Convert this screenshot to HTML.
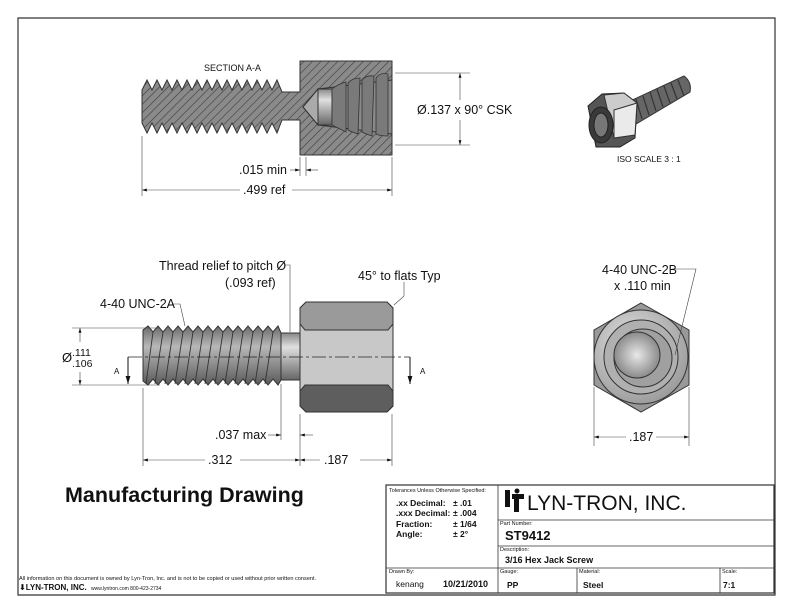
<!DOCTYPE html>
<html><head><meta charset="utf-8"><style>
html,body{margin:0;padding:0;background:#fff}
svg{display:block}
text{font-family:"Liberation Sans","DejaVu Sans",sans-serif;fill:#111}
</style></head><body>
<svg width="792" height="612" viewBox="0 0 792 612" xmlns="http://www.w3.org/2000/svg">
<defs>
<pattern id="hatch" width="6" height="6" patternUnits="userSpaceOnUse" patternTransform="rotate(45)">
<rect width="6" height="6" fill="#8a8a8a"/><line x1="0" y1="0" x2="0" y2="6" stroke="#3a3a3a" stroke-width="1.2"/></pattern>
<linearGradient id="shaft" x1="0" y1="0" x2="0" y2="1">
<stop offset="0" stop-color="#6a6a6a"/><stop offset="0.35" stop-color="#b8b8b8"/><stop offset="1" stop-color="#5a5a5a"/></linearGradient>
<linearGradient id="neck" x1="0" y1="0" x2="0" y2="1">
<stop offset="0" stop-color="#888"/><stop offset="0.3" stop-color="#e0e0e0"/><stop offset="1" stop-color="#666"/></linearGradient>
<radialGradient id="cone" cx="0.5" cy="0.5" r="0.5"><stop offset="0" stop-color="#e8e8e8"/><stop offset="1" stop-color="#8a8a8a"/></radialGradient>
<radialGradient id="face" cx="0.4" cy="0.35" r="0.7"><stop offset="0" stop-color="#e0e0e0"/><stop offset="1" stop-color="#999"/></radialGradient>
<marker id="ar" viewBox="0 0 10 6" refX="10" refY="3" markerWidth="8" markerHeight="5" orient="auto-start-reverse"><path d="M0,0L10,3L0,6Z" fill="#111"/></marker>
</defs>
<path d="M18,595 L18,18 L775,18 L775,595 Z" fill="none" stroke="#333" stroke-width="1.2"/>

<!-- SECTION A-A -->
<text x="204" y="71" font-size="9">SECTION A-A</text>
<path d="M142,90 L147,80 L152,90 L157,80 L162,90 L167,80 L172,90 L177,80 L182,90 L187,80 L192,90 L197,80 L202,90 L207,80 L212,90 L217,80 L222,90 L227,80 L232,90 L237,80 L242,90 L247,80 L252,90 L257,80 L262,90 L267,80 L272,90 L277,80 L282,92 L300,92 L300,61 L392,61 L392,155 L300,155 L300,120 L282,120 L277,133 L272,123 L267,133 L262,123 L257,133 L252,123 L247,133 L242,123 L237,133 L232,123 L227,133 L222,123 L217,133 L212,123 L207,133 L202,123 L197,133 L192,123 L187,133 L182,123 L177,133 L172,123 L167,133 L162,123 L157,133 L152,123 L147,133 L142,123 Z" fill="url(#hatch)" stroke="#333" stroke-width="1"/>
<path d="M303,107 L318,89 L392,80 L392,134 L318,125 Z" fill="#8a8a8a" stroke="#333"/>
<path d="M303,107 L318,89 L318,125 Z" fill="#aaa" stroke="#333"/>
<rect x="318" y="89" width="14" height="36" fill="url(#neck)" stroke="#333"/>
<g fill="#7a7a7a" stroke="#333" stroke-width="0.8">
<path d="M332,89 Q338,84 346,82 L346,132 Q338,128 332,125 Z"/>
<path d="M348,83 Q352,78 360,78 L358,134 Q352,132 348,130 Z"/>
<path d="M362,80 Q366,75 374,76 L372,136 Q366,134 362,132 Z"/>
<path d="M376,78 Q380,72 388,74 L388,136 Q380,136 376,134 Z"/>
</g>
<g stroke="#444" stroke-width="0.6" fill="none">
<line x1="142" y1="136" x2="142" y2="196"/><line x1="392" y1="157" x2="392" y2="196"/>
<line x1="300" y1="157" x2="300" y2="176"/><line x1="306" y1="157" x2="306" y2="176"/>
<line x1="142" y1="190" x2="240" y2="190" marker-start="url(#ar)"/><line x1="292" y1="190" x2="392" y2="190" marker-end="url(#ar)"/>
<line x1="290" y1="170" x2="300" y2="170" marker-end="url(#ar)"/><line x1="318" y1="170" x2="306" y2="170" marker-end="url(#ar)"/>
<line x1="395" y1="73" x2="470" y2="73"/><line x1="395" y1="145" x2="470" y2="145"/>
<line x1="460" y1="100" x2="460" y2="73" marker-end="url(#ar)"/><line x1="460" y1="120" x2="460" y2="145" marker-end="url(#ar)"/>
</g>
<text x="239" y="174" font-size="12.5">.015 min</text>
<text x="243" y="194" font-size="12.5">.499 ref</text>
<text x="417" y="114" font-size="12.5">Ø.137 x 90° CSK</text>

<!-- ISO -->
<g>
<path d="M628,102 L684,76 Q692,82 690,92 L636,124 Z" fill="#666" stroke="#333"/>
<g stroke="#333" stroke-width="1.2">
<line x1="636" y1="99" x2="642" y2="119"/><line x1="643" y1="96" x2="649" y2="115"/><line x1="650" y1="92" x2="656" y2="111"/><line x1="657" y1="89" x2="663" y2="107"/><line x1="664" y1="86" x2="670" y2="103"/><line x1="671" y1="83" x2="677" y2="99"/><line x1="678" y1="80" x2="684" y2="96"/></g>
<path d="M588,106 L602,94 L624,93 L637,103 L635,138 L620,147 L596,147 Z" fill="#555" stroke="#222"/>
<path d="M604,95 L624,93 L637,103 L635,135 L614,138 Z" fill="#ccc" stroke="#333"/>
<path d="M614,110 L637,103 L635,135 L614,138 Z" fill="#eaeaea" stroke="#333"/>
<ellipse cx="601" cy="125" rx="12" ry="18" fill="#3a3a3a" stroke="#222"/>
<ellipse cx="601" cy="125" rx="7" ry="12" fill="#777" stroke="#222"/>
</g>
<text x="617" y="162" font-size="8.5">ISO SCALE 3 : 1</text>

<!-- FRONT VIEW -->
<path d="M143,330 L148,326 L153,332 L158,326 L163,332 L168,326 L173,332 L178,326 L183,332 L188,326 L193,332 L198,326 L203,332 L208,326 L213,332 L218,326 L223,332 L228,326 L233,332 L238,326 L243,332 L248,326 L253,332 L258,326 L263,332 L268,326 L273,332 L278,326 L281,333 L281,380 L278,385 L273,379 L268,385 L263,379 L258,385 L253,379 L248,385 L243,379 L238,385 L233,379 L228,385 L223,379 L218,385 L213,379 L208,385 L203,379 L198,385 L193,379 L188,385 L183,379 L178,385 L173,379 L168,385 L163,379 L158,385 L153,379 L148,385 L143,381 Z" fill="url(#shaft)" stroke="#333"/>
<g stroke="#333" stroke-width="0.9">
<line x1="153" y1="332" x2="146" y2="384"/><line x1="163" y1="332" x2="155" y2="384"/><line x1="173" y1="332" x2="165" y2="384"/><line x1="183" y1="332" x2="175" y2="384"/><line x1="193" y1="332" x2="185" y2="384"/><line x1="203" y1="332" x2="195" y2="384"/><line x1="213" y1="332" x2="205" y2="384"/><line x1="223" y1="332" x2="215" y2="384"/><line x1="233" y1="332" x2="225" y2="384"/><line x1="243" y1="332" x2="235" y2="384"/><line x1="253" y1="332" x2="245" y2="384"/><line x1="263" y1="332" x2="255" y2="384"/><line x1="273" y1="332" x2="265" y2="384"/></g>
<rect x="281" y="333" width="19" height="47" fill="url(#neck)" stroke="#333"/>
<path d="M306,302 L387,302 L393,308 L393,406 L387,412 L306,412 L300,406 L300,308 Z" fill="#c8c8c8" stroke="#333"/>
<path d="M306,302 L387,302 L393,308 L393,324 L388,330 L305,330 L300,324 L300,308 Z" fill="#9a9a9a" stroke="#333"/>
<path d="M305,385 L388,385 L393,391 L393,406 L387,412 L306,412 L300,406 L300,391 Z" fill="#5e5e5e" stroke="#333"/>
<line x1="128" y1="357" x2="410" y2="357" stroke="#222" stroke-width="0.7" stroke-dasharray="14,3,3,3"/>
<g stroke="#111" stroke-width="1"><line x1="128" y1="357" x2="128" y2="384" marker-end="url(#ar)"/><line x1="410" y1="357" x2="410" y2="384" marker-end="url(#ar)"/></g>
<text x="114" y="374" font-size="8">A</text><text x="420" y="374" font-size="8">A</text>
<g stroke="#444" stroke-width="0.6" fill="none">
<line x1="72" y1="328" x2="160" y2="328"/><line x1="72" y1="385" x2="160" y2="385"/>
<line x1="80" y1="342" x2="80" y2="328" marker-end="url(#ar)"/><line x1="80" y1="372" x2="80" y2="385" marker-end="url(#ar)"/>
<line x1="143" y1="388" x2="143" y2="466"/><line x1="300" y1="414" x2="300" y2="466"/><line x1="392" y1="414" x2="392" y2="466"/><line x1="281" y1="384" x2="281" y2="440"/>
<line x1="143" y1="460" x2="205" y2="460" marker-start="url(#ar)"/><line x1="240" y1="460" x2="300" y2="460" marker-end="url(#ar)"/>
<line x1="300" y1="460" x2="320" y2="460" marker-start="url(#ar)"/><line x1="360" y1="460" x2="392" y2="460" marker-end="url(#ar)"/>
<line x1="268" y1="435" x2="281" y2="435" marker-end="url(#ar)"/><line x1="313" y1="435" x2="300" y2="435" marker-end="url(#ar)"/>
<polyline points="172,304 180,304 185,326"/>
<polyline points="284,265 290,265 290,332"/>
<polyline points="404,282 404,296 394,305"/>
</g>
<text x="62" y="362" font-size="13">Ø</text>
<text x="72" y="356" font-size="10.5">.111</text><text x="72" y="367" font-size="10.5">.106</text>
<text x="100" y="308" font-size="12.5">4-40 UNC-2A</text>
<text x="159" y="270" font-size="12.5">Thread relief to pitch Ø</text>
<text x="225" y="287" font-size="12.5">(.093 ref)</text>
<text x="358" y="280" font-size="12.5">45° to flats Typ</text>
<text x="215" y="439" font-size="12.5">.037 max</text>
<text x="208" y="464" font-size="12.5">.312</text>
<text x="324" y="464" font-size="12.5">.187</text>

<!-- END VIEW -->
<path d="M641,303 L689,330 L689,385 L641,412 L594,385 L594,330 Z" fill="#999" stroke="#333"/>
<circle cx="641" cy="357" r="47" fill="url(#face)" stroke="#333"/>
<circle cx="641" cy="357" r="37" fill="#b0b0b0" stroke="#333"/>
<circle cx="643" cy="358" r="29" fill="#a0a0a0" stroke="#333"/>
<circle cx="637" cy="355" r="23" fill="url(#cone)" stroke="#333"/>
<g stroke="#444" stroke-width="0.6" fill="none">
<line x1="594" y1="387" x2="594" y2="446"/><line x1="689" y1="387" x2="689" y2="446"/>
<line x1="594" y1="437" x2="626" y2="437" marker-start="url(#ar)"/><line x1="656" y1="437" x2="689" y2="437" marker-end="url(#ar)"/>
<polyline points="672,269 696,269 675,355"/>
</g>
<text x="602" y="274" font-size="12.5">4-40 UNC-2B</text>
<text x="614" y="290" font-size="12.5">x .110 min</text>
<text x="629" y="441" font-size="12.5">.187</text>

<text x="65" y="502" font-size="21.5" font-weight="bold">Manufacturing Drawing</text>

<!-- title block -->
<g stroke="#333" stroke-width="0.8" fill="none">
<rect x="386" y="485" width="388" height="108" stroke-width="1.2"/>
<line x1="498" y1="485" x2="498" y2="593"/>
<line x1="498" y1="520" x2="774" y2="520"/><line x1="498" y1="546" x2="774" y2="546"/>
<line x1="386" y1="568" x2="774" y2="568"/>
<line x1="577" y1="568" x2="577" y2="593"/><line x1="720" y1="568" x2="720" y2="593"/>
</g>
<text x="389" y="492" font-size="5.5">Tolerances Unless Otherwise Specified:</text>
<g font-size="8.5" font-weight="bold">
<text x="396" y="506">.xx Decimal:</text><text x="453" y="506">± .01</text>
<text x="396" y="516">.xxx Decimal:</text><text x="453" y="516">± .004</text>
<text x="396" y="527">Fraction:</text><text x="453" y="527">± 1/64</text>
<text x="396" y="537">Angle:</text><text x="453" y="537">± 2°</text>
</g>
<g fill="#111"><rect x="505" y="490" width="5" height="17"/><rect x="512" y="494" width="12" height="5"/><rect x="514" y="499" width="5" height="13"/><circle cx="517" cy="491" r="2.5"/></g>
<text x="527" y="510" font-size="21">LYN-TRON, INC.</text>
<text x="500" y="525" font-size="5.5">Part Number:</text>
<text x="505" y="540" font-size="13" font-weight="bold">ST9412</text>
<text x="500" y="551" font-size="5.5">Description:</text>
<text x="505" y="563" font-size="9" font-weight="bold">3/16 Hex Jack Screw</text>
<text x="389" y="573" font-size="5.5">Drawn By:</text>
<text x="396" y="587" font-size="8.5">kenang</text>
<text x="443" y="587" font-size="9" font-weight="bold">10/21/2010</text>
<text x="500" y="573" font-size="5.5">Gauge:</text><text x="507" y="588" font-size="8.5" font-weight="bold">PP</text>
<text x="579" y="573" font-size="5.5">Material:</text><text x="583" y="588" font-size="8.5" font-weight="bold">Steel</text>
<text x="722" y="573" font-size="5.5">Scale:</text><text x="723" y="588" font-size="8.5" font-weight="bold">7:1</text>

<text x="19" y="580" font-size="5.6">All information on this document is owned by Lyn-Tron, Inc. and is not to be copied or used without prior written consent.</text>
<text x="19" y="590" font-size="8" font-weight="bold">⬇LYN-TRON, INC.</text>
<text x="91" y="590" font-size="5">www.lyntron.com  800-423-2734</text>
</svg>
</body></html>
